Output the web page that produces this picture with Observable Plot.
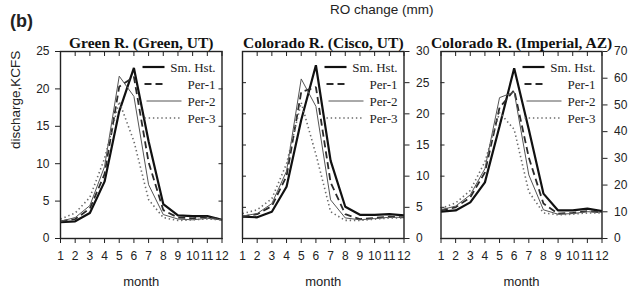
<!DOCTYPE html>
<html><head><meta charset="utf-8">
<script src="https://cdn.jsdelivr.net/npm/d3@7"></script>
<script src="https://cdn.jsdelivr.net/npm/@observablehq/plot@0.6"></script>
<style>
html,body{margin:0;padding:0;background:#fff;}
#chart{position:relative;width:633px;height:292px;overflow:hidden;font-family:"Liberation Sans",Arial,sans-serif;background:#fff;}
#chart svg{position:absolute;left:0;top:0;}
.txt{position:absolute;white-space:nowrap;color:#222;line-height:1;}
#chart svg g.legend text{font-family:"Liberation Serif","Times New Roman",serif !important;font-weight:400 !important;}
</style></head><body>
<div id="chart">
<div class="txt" style="left:10px;top:12px;font-weight:bold;font-size:18px;">(b)</div>
<div class="txt" style="left:330px;top:3px;font-size:13.5px;">RO change (mm)</div>
</div>
<script>
const months = [1,2,3,4,5,6,7,8,9,10,11,12];
const seriesNames = ["Sm. Hst.","Per-1","Per-2","Per-3"];
const panelTitles = ["Green R. (Green, UT)","Colorado R. (Cisco, UT)","Colorado R. (Imperial, AZ)"];

// Green R. (Green, UT)
const greenHst  = [2.2, 2.3, 3.4, 7.6, 17.0, 22.8, 13.0, 4.6, 3.1, 3.0, 3.0, 2.5];
const greenPer1 = [2.3, 2.6, 4.0, 8.6, 20.3, 21.6, 10.2, 3.8, 2.8, 2.7, 2.9, 2.5];
const greenPer2 = [2.3, 2.8, 4.4, 9.6, 21.7, 19.0, 7.2, 3.2, 2.6, 2.5, 2.7, 2.5];
const greenPer3 = [2.6, 3.4, 5.5, 10.7, 18.3, 13.0, 5.2, 2.8, 2.4, 2.5, 2.6, 2.5];
// Colorado R. (Cisco, UT)
const ciscoHst  = [3.5, 3.4, 4.3, 8.3, 19.0, 27.8, 12.5, 5.1, 3.8, 3.8, 3.9, 3.7];
const ciscoPer1 = [3.5, 3.9, 5.2, 10.0, 23.5, 24.3, 9.0, 3.9, 3.1, 3.3, 3.5, 3.4];
const ciscoPer2 = [3.6, 4.0, 5.6, 10.8, 25.6, 21.2, 6.2, 3.3, 3.0, 3.2, 3.4, 3.4];
const ciscoPer3 = [4.0, 4.6, 6.4, 12.0, 21.8, 13.5, 4.3, 2.9, 2.9, 3.1, 3.3, 3.3];
// Colorado R. (Imperial, AZ)
const impHst  = [4.3, 4.5, 5.8, 9.0, 18.0, 27.3, 17.5, 7.2, 4.5, 4.5, 4.8, 4.4];
const impPer1 = [4.5, 5.0, 6.6, 10.6, 21.0, 23.8, 13.0, 5.6, 4.0, 4.1, 4.4, 4.2];
const impPer2 = [4.6, 5.2, 7.0, 11.2, 22.6, 23.5, 10.2, 4.6, 3.9, 4.0, 4.3, 4.2];
const impPer3 = [4.8, 5.7, 7.7, 12.3, 20.2, 17.5, 7.5, 4.1, 3.8, 3.9, 4.1, 4.1];

const ticks25 = [0,5,10,15,20,25];
const ticks30 = [0,5,10,15,20,25,30];
const roTicks = [0,10,20,30,40,50,60,70];
const roMax = 70;
const yLabel = "discharge,KCFS";
const xLabel = "month";

const styles = {
  "Sm. Hst.": {stroke:"#111", strokeWidth:2.2, strokeDasharray:null},
  "Per-1": {stroke:"#2a2a2a", strokeWidth:1.8, strokeDasharray:"7,4"},
  "Per-2": {stroke:"#555", strokeWidth:1, strokeDasharray:null},
  "Per-3": {stroke:"#6a6a6a", strokeWidth:1.6, strokeDasharray:"1.4,2.8"}
};
// legend sample line extents, offsets from the frame's right edge
const legendSample = {"Sm. Hst.":[79,57], "Per-1":[77,55], "Per-2":[75,40], "Per-3":[77,41]};

function rows(values){ return values.map((v,i)=>({month:months[i], value:v})); }

const W = 633, H = 292, TOP = 51, BOTTOM = 54;
const panels = [
  {title:panelTitles[0], series:[greenHst,greenPer1,greenPer2,greenPer3], ymax:25, yticks:ticks25,
   ml:60, mr:W-221.5, leftLabels:true, right:"none"},
  {title:panelTitles[1], series:[ciscoHst,ciscoPer1,ciscoPer2,ciscoPer3], ymax:30, yticks:ticks30,
   ml:242, mr:W-403.5, leftLabels:false, right:"same"},
  {title:panelTitles[2], series:[impHst,impPer1,impPer2,impPer3], ymax:30, yticks:ticks30,
   ml:440.5, mr:W-601.5, leftLabels:false, right:"ro"}
];

const chart = document.getElementById("chart");
for (const p of panels) {
  const marks = [];
  marks.push(Plot.axisX({anchor:"top", ticks:months, tickSize:-4, tickFormat:()=>"", label:null, stroke:"#222"}));
  marks.push(Plot.axisX({anchor:"bottom", ticks:months, tickSize:5, tickPadding:8, tickFormat:d=>String(d), label:null, stroke:"#222", fill:"#222", fontSize:12}));
  if (p.leftLabels) {
    marks.push(Plot.axisY({anchor:"left", ticks:p.yticks, tickSize:5, tickPadding:6, label:null, stroke:"#222", fill:"#222", fontSize:12}));
  } else {
    marks.push(Plot.axisY({anchor:"left", ticks:p.yticks, tickSize:-4, tickFormat:()=>"", label:null, stroke:"#222"}));
  }
  if (p.right === "none") {
    marks.push(Plot.axisY({anchor:"right", ticks:p.yticks, tickSize:-4, tickFormat:()=>"", label:null, stroke:"#222"}));
  } else if (p.right === "same") {
    marks.push(Plot.axisY({anchor:"right", ticks:p.yticks, tickSize:5, tickPadding:7, label:null, stroke:"#222", fill:"#222", fontSize:12}));
  } else {
    marks.push(Plot.axisY({anchor:"right", ticks:roTicks.map(v=>v*p.ymax/roMax), tickSize:5, tickPadding:7,
      tickFormat:d=>String(Math.round(d*roMax/p.ymax)), label:null, stroke:"#222", fill:"#222", fontSize:12}));
  }
  p.series.forEach((vals, i) => {
    const st = styles[seriesNames[i]];
    const o = {x:"month", y:"value", stroke:st.stroke, strokeWidth:st.strokeWidth, strokeLinejoin:"miter", strokeLinecap:"butt"};
    if (st.strokeDasharray) o.strokeDasharray = st.strokeDasharray;
    marks.push(Plot.line(rows(vals), o));
  });
  marks.push(Plot.frame({stroke:"#222", strokeWidth:1.4}));
  marks.push(Plot.text([p.title], {text:d=>d, frameAnchor:"top", dy:-15, fontFamily:"Liberation Serif", fontWeight:"bold", fontSize:15.5, fill:"#111"}));
  marks.push(Plot.text([xLabel], {text:d=>d, frameAnchor:"bottom", dy:47, fontSize:13, fill:"#222"}));
  if (p.leftLabels) {
    marks.push(Plot.text([yLabel], {text:d=>d, frameAnchor:"left", dx:-45, dy:4, rotate:-90, fontSize:13.5, fill:"#222"}));
  }
  const plot = Plot.plot({
    width:W, height:H, marginLeft:p.ml, marginRight:p.mr, marginTop:TOP, marginBottom:BOTTOM,
    x:{domain:[1,12]}, y:{domain:[0,p.ymax]},
    style:{background:"transparent", overflow:"visible", fontFamily:"Liberation Sans, Arial, sans-serif", fontSize:"12px", color:"#222"},
    marks
  });
  const xr = plot.scale("x").range, yr = plot.scale("y").range;
  const R = Math.max(...xr), T = Math.min(...yr);
  const g = d3.select(plot).append("g").attr("class","legend");
  seriesNames.forEach((name, i) => {
    const st = styles[name];
    const yy = T + 16 + i*17;
    const ln = g.append("line").attr("x1", R-legendSample[name][0]).attr("x2", R-legendSample[name][1])
      .attr("y1", yy).attr("y2", yy).attr("stroke", st.stroke).attr("stroke-width", st.strokeWidth);
    if (st.strokeDasharray) ln.attr("stroke-dasharray", st.strokeDasharray);
    g.append("text").attr("x", R-6).attr("y", yy).attr("dy","0.35em").attr("text-anchor","end")
      .attr("font-size",13).attr("fill","#222").text(name);
  });
  chart.appendChild(plot);
}
</script>
</body></html>
